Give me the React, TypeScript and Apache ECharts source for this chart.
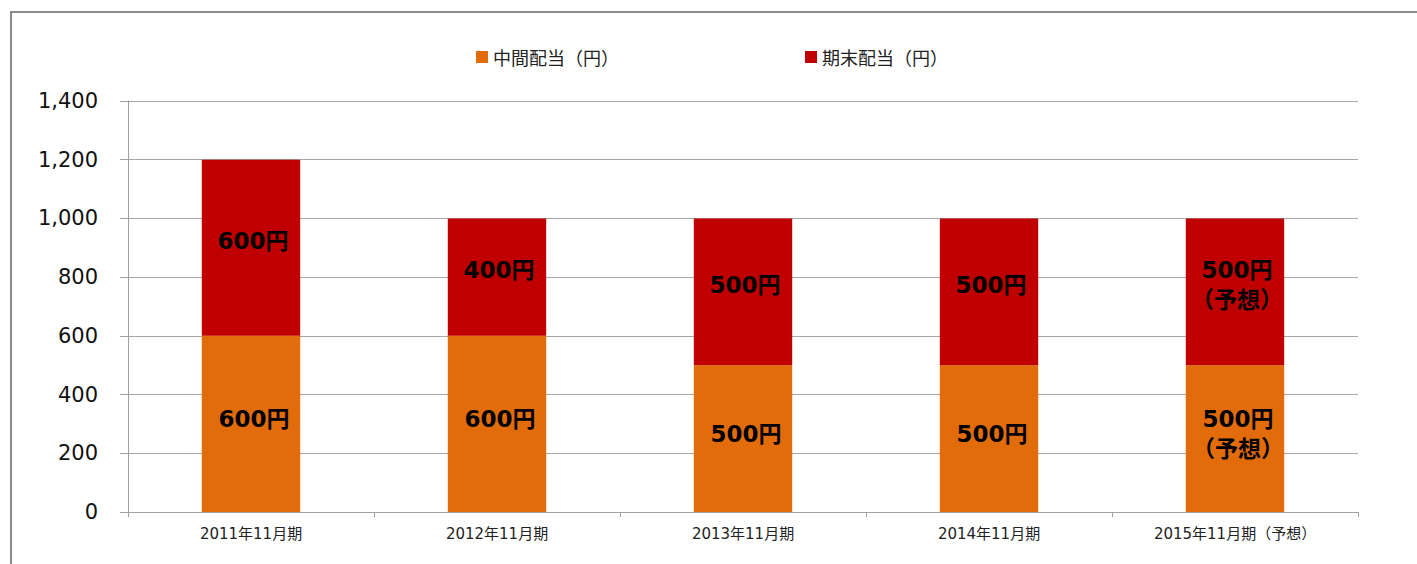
import React, { useEffect, useRef } from "react";
import * as echarts from "echarts";

const categories = ["2011年11月期", "2012年11月期", "2013年11月期", "2014年11月期", "2015年11月期（予想）"];
const interimDividend = [600, 600, 500, 500, 500];
const finalDividend = [600, 400, 500, 500, 500];
const isForecast = [false, false, false, false, true];
const seriesNames = ["中間配当（円）", "期末配当（円）"];
const yTicks = [0, 200, 400, 600, 800, 1000, 1200, 1400];

const FONT = "'DejaVu Sans', 'Noto Sans CJK JP', sans-serif";
const CJK = "'Noto Sans CJK JP', 'DejaVu Sans', sans-serif";

export default function App() {
  const ref = useRef<HTMLDivElement>(null);
  useEffect(() => {
    if (!ref.current) return;
    const chart = echarts.init(ref.current, null, { renderer: "svg" });
    const labelFmt = (p: any) =>
      isForecast[p.dataIndex] ? `${p.value}円\n（予想）` : `${p.value}円`;
    const barLabel = {
      show: true,
      position: "inside",
      formatter: labelFmt,
      color: "#000",
      fontWeight: "bold",
      fontSize: 23,
      lineHeight: 30,
      fontFamily: FONT,
    };
    chart.setOption({
      animation: false,
      backgroundColor: "#fff",
      graphic: [
        {
          type: "rect",
          shape: { x: 11, y: 12, width: 1420, height: 560 },
          style: { fill: "none", stroke: "#8c8c8c", lineWidth: 2 },
          silent: true,
        },
      ],
      legend: {
        left: 471,
        top: 43,
        itemWidth: 12,
        itemHeight: 12,
        itemGap: 186,
        itemTextGap: 6,
        icon: "rect",
        textStyle: { fontSize: 18, fontFamily: CJK, color: "#222" },
        data: seriesNames,
      },
      grid: { left: 128, right: 59, top: 101, bottom: 52, containLabel: false },
      xAxis: {
        type: "category",
        data: categories,
        axisLine: { show: true, lineStyle: { color: "#a0a0a0", width: 1 } },
        axisTick: { show: true, alignWithLabel: false, length: 5, lineStyle: { color: "#a0a0a0" } },
        axisLabel: { color: "#222", fontSize: 15, fontFamily: FONT, margin: 14 },
      },
      yAxis: {
        type: "value",
        min: 0,
        max: yTicks[yTicks.length - 1],
        interval: 200,
        axisLine: { show: true, lineStyle: { color: "#a0a0a0", width: 1 } },
        axisTick: { show: true, length: 8, lineStyle: { color: "#a0a0a0" } },
        axisLabel: {
          color: "#111",
          fontSize: 21,
          fontFamily: FONT,
          margin: 30,
          formatter: (v: number) => v.toLocaleString("en-US"),
        },
        splitLine: { show: true, lineStyle: { color: "#a6a6a6", width: 1 } },
      },
      series: [
        {
          name: seriesNames[0],
          type: "bar",
          stack: "div",
          barWidth: "40%",
          data: interimDividend,
          itemStyle: { color: "#E36C0A" },
          label: { ...barLabel, offset: [3, -5] },
        },
        {
          name: seriesNames[1],
          type: "bar",
          stack: "div",
          barWidth: "40%",
          data: finalDividend,
          itemStyle: { color: "#C00000" },
          label: { ...barLabel, offset: [2, -7] },
        },
      ],
    });
    return () => chart.dispose();
  }, []);
  return (
    <div
      ref={ref}
      style={{ position: "absolute", left: 0, top: 0, width: 1417, height: 564 }}
    />
  );
}
